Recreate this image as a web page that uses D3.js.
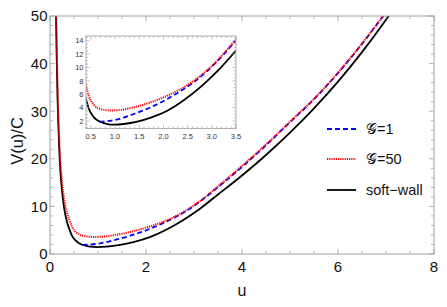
<!DOCTYPE html>
<html><head><meta charset="utf-8">
<script src="https://cdn.jsdelivr.net/npm/d3@7"></script>
<style>body{margin:0;background:#fff}svg{font-family:"Liberation Sans",Arial,sans-serif}</style>
</head><body><svg id="c" width="447" height="307"></svg>
<script>
const seriesNames = ["𝒢=1", "𝒢=50", "soft−wall"];
const uBlack = [0.118,0.125,0.15,0.2,0.25,0.3,0.35,0.4,0.46,0.565,0.67,0.84,0.98,1.18,1.46,1.74,2.08,2.42,2.77,3.11,3.5,4,4.5,5,5.5,6,6.5,7,7.2];
const vBlack = [56,50,36,20.3,13.3,9.3,6.9,5.29,3.79,2.55,1.95,1.55,1.45,1.55,1.9,2.5,3.54,5.1,7.1,9.4,12.5,16.5,20.8,25.5,30.6,36.2,42.4,49.2,52.1];
const uRed = [0.12,0.125,0.15,0.2,0.25,0.3,0.35,0.4,0.46,0.565,0.7,0.91,1.12,1.39,1.74,2.08,2.42,2.77,3.11,3.5,4,4.5,5,5.5,6,6.5,7,7.2];
const vRed = [58,53,38.5,22.5,15.3,11.2,8.8,7.28,5.7,4.4,3.8,3.58,3.66,4.05,4.8,5.78,7.03,8.77,11.0,14.2,18.5,23.0,27.8,32.6,38.1,44.2,50.8,53.5];
const uBlue = [0.68,0.84,1.05,1.39,1.74,2.08,2.42,2.77,3.11,3.5,4,4.5,5,5.5,6,6.5,7,7.2];
const vBlue = [1.9,1.98,2.25,3.05,4.05,5.29,6.78,8.62,10.9,14.05,18.3,22.85,27.7,32.5,38.0,44.15,50.8,53.5];
const xTicks = [0,2,4,6,8];
const yTicks = [0,10,20,30,40,50];
const insetXTicks = [0.5,1.0,1.5,2.0,2.5,3.0,3.5];
const insetYTicks = [2,4,6,8,10,12,14];

const svg = d3.select("#c");
const series = [
  {u:uBlue, v:vBlue, color:"#0000ff", width:1.8, dash:"5,3"},
  {u:uRed, v:vRed, color:"#ff0000", width:2, dash:"1.2,1"},
  {u:uBlack, v:vBlack, color:"#000", width:1.8, dash:null}
];

function panel(g, x, y, opt) {
  const [x0,x1] = x.range(), [y0,y1] = y.range();
  const id = opt.id;
  g.append("clipPath").attr("id", id).append("rect")
    .attr("x", x0).attr("y", y1).attr("width", x1-x0).attr("height", y0-y1);
  g.append("rect").attr("x", x0).attr("y", y1).attr("width", x1-x0).attr("height", y0-y1)
    .attr("fill", "#fff");
  const lines = g.append("g").attr("clip-path", `url(#${id})`);
  for (const i of [2,0,1]) {
    const s = series[i];
    const pts = s.u.map((d,k)=>[d, s.v[k]]);
    lines.append("path")
      .attr("d", d3.line().x(d=>x(d[0])).y(d=>y(d[1])).curve(d3.curveMonotoneX)(pts))
      .attr("fill","none").attr("stroke", s.color).attr("stroke-width", s.width*opt.lw)
      .attr("stroke-dasharray", s.dash);
  }
  g.append("rect").attr("x", x0).attr("y", y1).attr("width", x1-x0).attr("height", y0-y1)
    .attr("fill","none").attr("stroke", opt.frame).attr("stroke-width", 1);
  const tk = g.append("g").attr("stroke", opt.frame).attr("stroke-width", 0.8);
  const xd = x.domain(), yd = y.domain();
  const minorX = d3.range(Math.ceil(xd[0]/opt.mx)*opt.mx, xd[1]+1e-9, opt.mx);
  const minorY = d3.range(Math.ceil(yd[0]/opt.my)*opt.my, yd[1]+1e-9, opt.my);
  const isMaj = (v, step) => Math.abs(v/step - Math.round(v/step)) < 1e-6;
  minorX.forEach(v => {
    const L = isMaj(v, opt.Mx) ? opt.maj : opt.min;
    tk.append("line").attr("x1", x(v)).attr("x2", x(v)).attr("y1", y0).attr("y2", y0-L);
    tk.append("line").attr("x1", x(v)).attr("x2", x(v)).attr("y1", y1).attr("y2", y1+L);
  });
  minorY.forEach(v => {
    const L = isMaj(v, opt.My) ? opt.maj : opt.min;
    tk.append("line").attr("y1", y(v)).attr("y2", y(v)).attr("x1", x0).attr("x2", x0+L);
    tk.append("line").attr("y1", y(v)).attr("y2", y(v)).attr("x1", x1).attr("x2", x1-L);
  });
  g.append("g").selectAll("text").data(opt.xt).join("text")
    .attr("x", d=>x(d)).attr("y", y0 + opt.xoff).attr("text-anchor","middle")
    .attr("font-size", opt.fs).attr("fill", opt.tc).text(d=>opt.fmt(d));
  g.append("g").selectAll("text").data(opt.yt).join("text")
    .attr("x", x0 - opt.yoff).attr("y", d=>y(d)).attr("dy","0.36em").attr("text-anchor","end")
    .attr("font-size", opt.fs).attr("fill", opt.tc).text(d=>String(d));
}

const x = d3.scaleLinear([0,8],[50,434]);
const y = d3.scaleLinear([0,50],[254,16]);
panel(svg.append("g"), x, y, {id:"cm", lw:1, frame:"#a0a0a0", mx:0.5, my:2, Mx:2, My:10, maj:5, min:3,
  xt:xTicks, yt:yTicks, xoff:17.5, yoff:2.5, fs:15, tc:"#111", fmt:d=>String(d)});

svg.append("text").attr("x", 242).attr("y", 296).attr("text-anchor","middle")
  .attr("font-size", 16).attr("fill","#111").text("u");
svg.append("text").attr("transform","translate(23,141) rotate(-90)").attr("text-anchor","middle")
  .attr("font-size", 16.5).attr("fill","#111").text("V(u)/C");

const xi = d3.scaleLinear([0.4,3.5],[86,236]);
const yi = d3.scaleLinear([0.88,14.7],[128.5,36]);
panel(svg.append("g"), xi, yi, {id:"ci", lw:1, frame:"#b0b0b0", mx:0.1, my:0.5, Mx:0.5, My:2, maj:3.5, min:2,
  xt:insetXTicks, yt:insetYTicks, xoff:10, yoff:2.5, fs:7.5, tc:"#333", fmt:d=>d.toFixed(1)});

const leg = svg.append("g");
const legY = [129, 159, 190];
[0,1,2].forEach(i => {
  const s = series[i];
  leg.append("line").attr("x1",327).attr("x2",356).attr("y1",legY[i]).attr("y2",legY[i])
    .attr("stroke", s.color).attr("stroke-width", s.width).attr("stroke-dasharray", s.dash);
  leg.append("text").attr("x",366).attr("y",legY[i]).attr("dy","0.36em")
    .attr("font-size",14.5).attr("fill","#111").text(seriesNames[i]);
});
</script></body></html>
